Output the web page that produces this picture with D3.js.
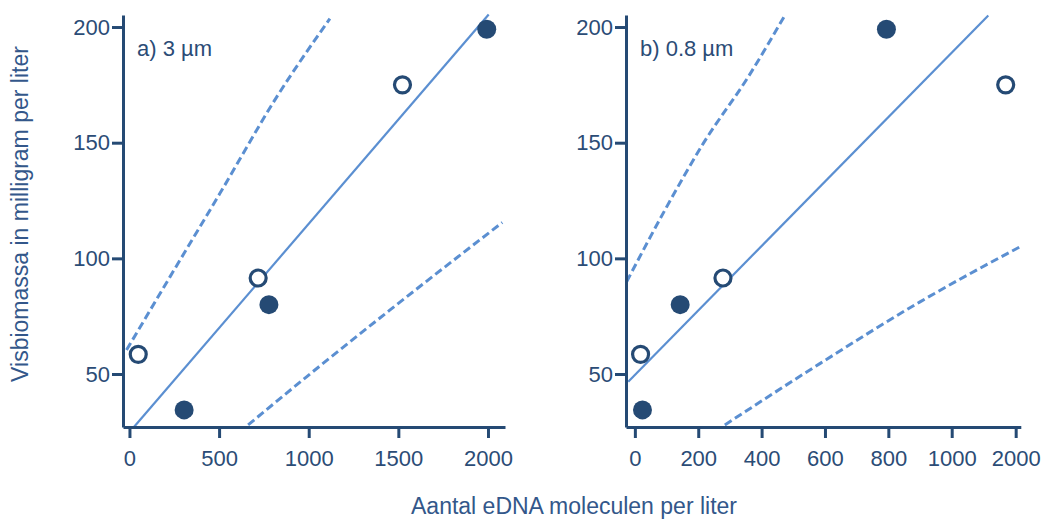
<!DOCTYPE html>
<html>
<head>
<meta charset="utf-8">
<script src="https://cdn.jsdelivr.net/npm/d3@7"></script>
<style>
  body { margin: 0; background: #fff; }
  svg { font-family: "Liberation Sans", Arial, sans-serif; }
  .axis path, .axis line { stroke: #254a74; stroke-width: 3; }
  .axis text { fill: #2b4c76; font-size: 22px; }
</style>
</head>
<body>
<div id="chart"></div>
<script>
/* DATA */
// visbiomassa (mg/l), same samples in both panels
const biomass = [58.5, 34.5, 91.5, 80, 175, 199];
const filled  = [false, true, false, true, false, true];
// eDNA molecules per liter
const ednaA = [49, 305, 718, 778, 1523, 1993];
const ednaB = [18, 24, 278, 143, 1844, 794];

// fitted line + prediction bands
const fitA   = [[25, 27.1], [2004, 205.4]];
const upperA = [[-16, 60.4], [226, 92.0], [504, 128.0], [821, 169.7], [1118, 203.6]];
const lowerA = [[662, 28.0], [988, 48.8], [1452, 77.6], [2080, 115.5]];
const fitB   = [[-21, 46.7], [1572, 205.0]];
const upperB = [[-26, 89.9], [95, 120.9], [216, 149.7], [358, 178.5], [474, 205.2]];
const lowerB = [[284, 28.0], [585, 54.6], [900, 81.2], [2067, 105.0]];

const yTicks = [50, 100, 150, 200];
const xTicksA = [0, 500, 1000, 1500, 2000];
const xTicksB = [0, 200, 400, 600, 800, 1000, 2000];
const labels = ["a) 3 µm", "b) 0.8 µm"];

/* SETUP */
const width = 1043, height = 521;
const lineColor = "#5b8fd1", dotColor = "#254a74";

const svg = d3.select("#chart").append("svg")
  .attr("width", width)
  .attr("height", height);

const y = d3.scaleLinear().domain([27.1, 205.2]).range([427, 15]);

const xA = d3.scaleLinear().domain([-36, 2095]).range([123, 505]);
// axis b has a jump between 1000 and 2000
const xB = d3.scaleLinear().domain([-28, 1000, 2080]).range([626, 951.7, 1020.8]);

const panels = [
  {x: xA, ticks: xTicksA, edna: ednaA, fit: fitA, upper: upperA, lower: lowerA, label: labels[0]},
  {x: xB, ticks: xTicksB, edna: ednaB, fit: fitB, upper: upperB, lower: lowerB, label: labels[1]}
];

panels.forEach(p => {
  const g = svg.append("g");
  const line = d3.line().x(d => p.x(d[0])).y(d => y(d[1])).curve(d3.curveMonotoneX);

  // lines
  g.append("path").datum(p.upper).attr("d", line)
    .attr("fill", "none").attr("stroke", lineColor).attr("stroke-width", 3)
    .attr("stroke-dasharray", "8,4");
  g.append("path").datum(p.lower).attr("d", line)
    .attr("fill", "none").attr("stroke", lineColor).attr("stroke-width", 3)
    .attr("stroke-dasharray", "8,4");
  g.append("path").datum(p.fit).attr("d", line)
    .attr("fill", "none").attr("stroke", lineColor).attr("stroke-width", 2.2);

  // axes
  g.append("g")
    .attr("class", "axis")
    .attr("transform", `translate(${p.x.range()[0]},0)`)
    .call(d3.axisLeft(y).tickValues(yTicks).tickSize(11).tickSizeOuter(0).tickPadding(2));

  g.append("g")
    .attr("class", "axis")
    .attr("transform", "translate(0,427)")
    .call(d3.axisBottom(p.x).tickValues(p.ticks).tickSize(11).tickSizeOuter(0).tickPadding(12)
      .tickFormat(d3.format("d")));

  // points
  g.selectAll("circle")
    .data(p.edna.map((e, i) => ({e, b: biomass[i], f: filled[i]})))
    .join("circle")
    .attr("cx", d => p.x(d.e))
    .attr("cy", d => y(d.b))
    .attr("r", d => d.f ? 9.5 : 8)
    .attr("fill", d => d.f ? dotColor : "#fff")
    .attr("stroke", d => d.f ? "none" : dotColor)
    .attr("stroke-width", 3.2);

  g.append("text")
    .attr("x", p.x.range()[0] + 14)
    .attr("y", 56)
    .attr("fill", "#2b4c76")
    .attr("font-size", 22)
    .text(p.label);
});

// axis titles
svg.append("text")
  .attr("transform", "translate(28,214) rotate(-90)")
  .attr("text-anchor", "middle")
  .attr("fill", "#33578a")
  .attr("font-size", 23)
  .text("Visbiomassa in milligram per liter");

svg.append("text")
  .attr("x", 574)
  .attr("y", 514)
  .attr("text-anchor", "middle")
  .attr("fill", "#33578a")
  .attr("font-size", 23)
  .text("Aantal eDNA moleculen per liter");
</script>
</body>
</html>
